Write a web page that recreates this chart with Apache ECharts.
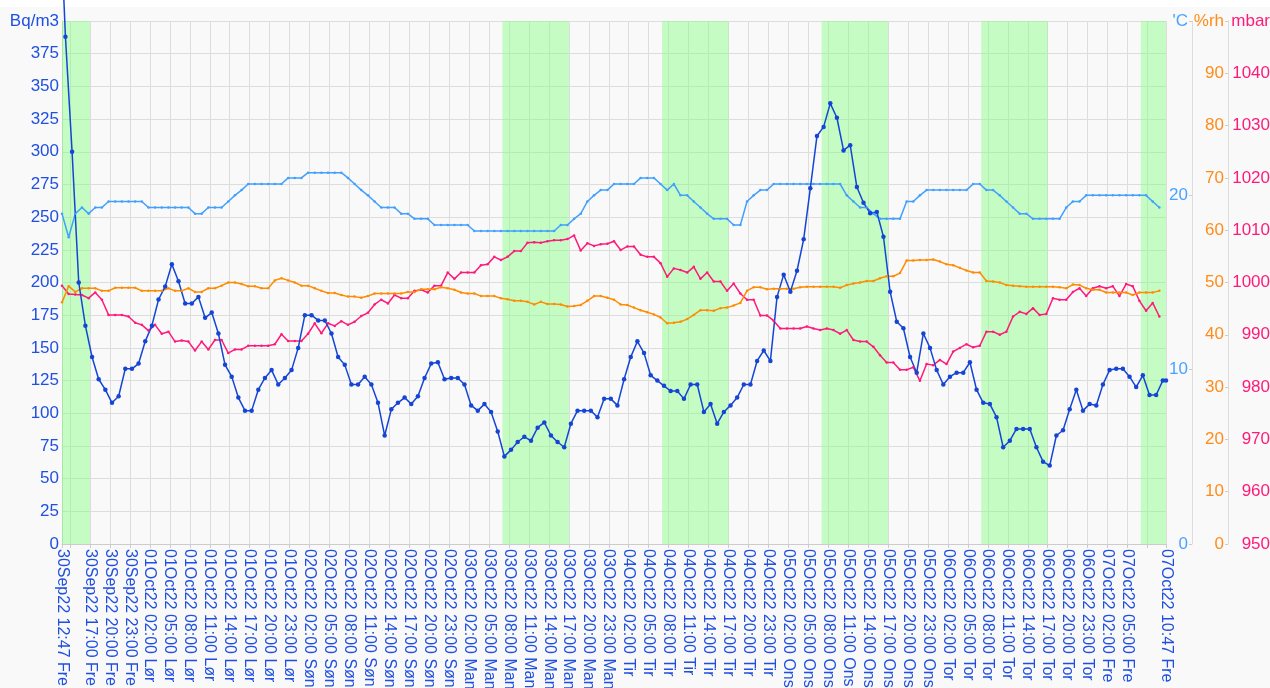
<!DOCTYPE html>
<html>
<head>
<meta charset="utf-8">
<title>Radon og inneklima</title>
<script src="https://cdn.jsdelivr.net/npm/echarts@6/dist/echarts.min.js"></script>
<style>
html, body { margin: 0; padding: 0; background: #ffffff; }
#main { width: 1270px; height: 688px; }
</style>
</head>
<body>
<div id="main"></div>
<script>
'use strict';
// all times are hours counted from 30Sep22 00:00
var startHour = 12 + 47 / 60;          // 30Sep22 12:47
var endHour = 168 + 10 + 47 / 60;      // 07Oct22 10:47
var radonFirstHour = 13 + 18 / 60;     // radon readings come at hh:18
var climateFirstHour = startHour;      // temp / rh / pressure at hh:47

var radonAtStart = 450;
var radon = [
  388, 300, 200, 167, 143, 126, 118, 108, 113, 134, 134, 138, 155, 167, 187, 197, 214, 201, 184, 184,
  189, 173, 177, 161, 137, 128, 112, 102, 102, 118, 127, 133, 122, 127, 133, 150, 175, 175, 171, 171,
  161, 143, 137, 122, 122, 128, 122, 108, 83, 103, 108, 112, 107, 113, 127, 138, 139, 126, 127, 127,
  122, 106, 102, 107, 101, 86, 67, 72, 78, 82, 79, 89, 93, 83, 78, 74, 92, 102, 102, 102,
  97, 111, 111, 106, 126, 143, 155, 146, 129, 125, 121, 117, 117, 111, 122, 122, 101, 107, 92, 101,
  106, 112, 122, 122, 140, 148, 140, 189, 206, 193, 209, 233, 272, 312, 319, 337, 326, 301, 305, 273,
  261, 253, 254, 235, 193, 170, 165, 143, 131, 161, 150, 133, 122, 128, 131, 131, 139, 118, 108, 107,
  97, 74, 79, 88, 88, 88, 74, 63, 60, 83, 87, 103, 118, 102, 107, 106, 122, 133, 134, 134,
  128, 120, 129, 114, 114, 125
];
var temperature = [
  18.95, 17.6, 18.95, 19.3, 18.95, 19.3, 19.3, 19.65, 19.65, 19.65, 19.65, 19.65, 19.65, 19.3, 19.3, 19.3, 19.3, 19.3, 19.3, 19.3,
  18.95, 18.95, 19.3, 19.3, 19.3, 19.65, 20.0, 20.3, 20.65, 20.65, 20.65, 20.65, 20.65, 20.65, 21.0, 21.0, 21.0, 21.3, 21.3, 21.3,
  21.3, 21.3, 21.3, 21.0, 20.65, 20.3, 20.0, 19.65, 19.3, 19.3, 19.3, 18.95, 18.95, 18.65, 18.65, 18.65, 18.3, 18.3, 18.3, 18.3,
  18.3, 18.3, 17.95, 17.95, 17.95, 17.95, 17.95, 17.95, 17.95, 17.95, 17.95, 17.95, 17.95, 17.95, 17.95, 18.3, 18.3, 18.65, 18.95, 19.65,
  20.0, 20.3, 20.3, 20.65, 20.65, 20.65, 20.65, 21.0, 21.0, 21.0, 20.65, 20.3, 20.65, 20.0, 20.0, 19.65, 19.3, 18.95, 18.65, 18.65,
  18.65, 18.3, 18.3, 19.65, 20.0, 20.3, 20.3, 20.65, 20.65, 20.65, 20.65, 20.65, 20.65, 20.65, 20.65, 20.65, 20.65, 20.65, 20.0, 19.65,
  19.3, 19.3, 18.95, 18.65, 18.65, 18.65, 18.65, 19.65, 19.65, 20.0, 20.3, 20.3, 20.3, 20.3, 20.3, 20.3, 20.3, 20.65, 20.65, 20.3,
  20.3, 20.0, 19.65, 19.3, 18.95, 18.95, 18.65, 18.65, 18.65, 18.65, 18.65, 19.3, 19.65, 19.65, 20.0, 20.0, 20.0, 20.0, 20.0, 20.0,
  20.0, 20.0, 20.0, 20.0, 19.65, 19.3
];
var humidity = [
  46.2, 49.3, 48.2, 48.9, 48.9, 48.9, 48.4, 48.4, 49.0, 49.0, 49.0, 49.0, 48.4, 48.4, 48.4, 48.4, 48.9, 48.4, 48.4, 48.9,
  48.2, 48.2, 48.9, 48.9, 49.4, 50.0, 50.0, 49.7, 49.3, 49.3, 48.9, 48.9, 50.4, 50.8, 50.4, 50.0, 49.4, 49.4, 48.9, 48.4,
  48.0, 48.0, 47.6, 47.3, 47.3, 47.1, 47.4, 47.9, 47.9, 47.9, 47.9, 47.9, 48.2, 48.2, 48.7, 48.7, 48.7, 49.1, 48.9, 48.6,
  48.1, 47.9, 47.9, 47.4, 47.4, 47.4, 47.0, 46.8, 46.5, 46.5, 46.3, 45.8, 46.3, 45.9, 45.9, 45.8, 45.4, 45.5, 45.7, 46.5,
  47.4, 47.4, 47.1, 46.7, 45.8, 45.7, 45.2, 44.7, 44.3, 43.9, 43.3, 42.2, 42.3, 42.5, 43.0, 43.8, 44.7, 44.7, 44.6, 45.1,
  45.2, 45.6, 46.1, 48.4, 49.1, 49.1, 48.7, 48.8, 48.8, 48.8, 48.8, 49.1, 49.2, 49.2, 49.2, 49.2, 49.2, 49.0, 49.5, 49.8,
  50.0, 50.3, 50.3, 50.8, 51.2, 51.2, 51.8, 54.2, 54.2, 54.3, 54.3, 54.4, 54.0, 53.5, 53.3, 52.8, 52.3, 51.9, 51.9, 50.3,
  50.2, 50.0, 49.5, 49.4, 49.3, 49.2, 49.2, 49.2, 49.2, 49.2, 49.1, 48.9, 49.6, 49.5, 48.9, 48.6, 48.6, 48.1, 48.1, 48.1,
  48.1, 47.6, 48.1, 48.1, 48.1, 48.4
];
var pressure = [
  999.4, 997.8, 997.7, 997.6, 997.0, 998.1, 996.7, 993.8, 993.8, 993.8, 993.5, 992.3, 991.9, 990.8, 991.9, 990.2, 990.6, 988.7, 988.9, 988.7,
  987.0, 988.7, 987.2, 989.0, 989.0, 986.5, 987.2, 987.2, 987.9, 987.9, 987.9, 987.9, 988.2, 990.1, 988.8, 988.8, 988.8, 990.2, 992.2, 990.3,
  992.2, 991.7, 992.6, 991.9, 992.5, 993.6, 994.2, 995.8, 996.7, 996.0, 997.6, 997.0, 997.0, 998.4, 998.6, 998.1, 999.4, 999.4, 1001.9, 1000.7,
  1001.9, 1001.9, 1001.9, 1003.3, 1003.5, 1004.9, 1004.3, 1004.9, 1006.0, 1006.0, 1007.6, 1007.7, 1007.6, 1007.9, 1008.1, 1008.1, 1008.3, 1009.0, 1006.1, 1007.5,
  1007.0, 1007.3, 1007.4, 1007.9, 1006.2, 1006.9, 1006.9, 1005.3, 1004.9, 1004.9, 1003.7, 1001.1, 1002.7, 1002.4, 1001.9, 1003.0, 1000.7, 1001.9, 1000.2, 1000.2,
  998.4, 999.8, 997.9, 996.7, 996.7, 993.7, 993.7, 992.7, 991.2, 991.2, 991.2, 991.2, 991.6, 991.2, 990.9, 991.2, 990.9, 990.2, 990.9, 989.0,
  988.7, 988.7, 987.7, 986.1, 984.7, 984.7, 983.3, 983.3, 983.8, 981.2, 984.4, 984.2, 985.2, 984.4, 986.8, 987.5, 988.2, 987.6, 987.9, 990.6,
  990.6, 990.0, 990.6, 993.5, 994.4, 994.0, 995.1, 993.8, 994.0, 997.0, 996.7, 996.7, 998.2, 998.9, 997.4, 998.9, 999.3, 998.9, 999.3, 997.4,
  999.7, 999.3, 996.5, 994.6, 996.1, 993.5
];

// working hours (07-17 on weekdays), shaded green
var workHours = [[startHour, 17], [79, 89], [103, 113], [127, 137], [151, 161], [175, endHour]];

var dayNames = ['Søn', 'Man', 'Tir', 'Ons', 'Tor', 'Fre', 'Lør'];
var monthNames = ['Jan', 'Feb', 'Mar', 'Apr', 'May', 'Jun', 'Jul', 'Aug', 'Sep', 'Oct', 'Nov', 'Dec'];

function pad(n) { return (n < 10 ? '0' : '') + n; }
function fmtTime(h) {
  var d = new Date(Date.UTC(2022, 8, 30) + Math.round(h * 60) * 60000);
  return pad(d.getUTCDate()) + monthNames[d.getUTCMonth()] + String(d.getUTCFullYear()).slice(2) +
    ' ' + pad(d.getUTCHours()) + ':' + pad(d.getUTCMinutes()) + ' ' + dayNames[d.getUTCDay()];
}

// every third hour (02, 05, 08 ...) plus the ends of the range
var tickHours = [startHour];
var labelHours = [startHour];
for (var h = 14; h < endHour; h += 3) {
  tickHours.push(h);
  if (h - startHour > 3 && endHour - h > 3) labelHours.push(h);
}
tickHours.push(endHour);
labelHours.push(endHour);

function pairs(first, values) {
  return values.map(function (v, i) { return [first + i, v]; });
}
var radonData = [[startHour, radonAtStart]].concat(pairs(radonFirstHour, radon), [[endHour, radon[radon.length - 1]]]);

var font = 'Liberation Sans, Arial, sans-serif';
var gridColor = '#dddddd';

var chart = echarts.init(document.getElementById('main'));
chart.setOption({
  animation: false,
  backgroundColor: '#f9f9f9',
  textStyle: { fontFamily: font },
  graphic: [{ type: 'rect', z: 0, shape: { x: 0, y: 0, width: 1270, height: 7 }, style: { fill: '#ffffff' } }],
  grid: { left: 62, right: 104, top: 21, bottom: 144, outerBoundsMode: 'none' },
  xAxis: {
    type: 'value',
    min: startHour,
    max: endHour,
    axisLine: { lineStyle: { color: '#cccccc' } },
    axisTick: { customValues: tickHours, length: 4, lineStyle: { color: '#cccccc' } },
    axisLabel: {
      customValues: labelHours, rotate: -90, margin: 5,
      color: '#1f4fe0', fontSize: 16, fontFamily: font, formatter: fmtTime
    },
    splitLine: { show: true, lineStyle: { color: gridColor } }
  },
  yAxis: [
    {
      type: 'value', min: 0, max: 400, interval: 25, position: 'left',
      axisLine: { show: true, lineStyle: { color: '#cccccc' } },
      axisTick: { show: false },
      axisLabel: {
        color: '#2050e0', fontSize: 17, margin: 3, fontFamily: font,
        formatter: function (v) { return v === 400 ? 'Bq/m3' : v; }
      },
      splitLine: { lineStyle: { color: gridColor } }
    },
    {
      type: 'value', min: 0, max: 30, interval: 10, position: 'right', offset: 26,
      axisLine: { show: true, lineStyle: { color: gridColor } },
      axisTick: { show: true, inside: true, length: 3, lineStyle: { color: '#cccccc' } },
      axisLabel: {
        inside: true, margin: 4, color: '#4aa3ff', fontSize: 17, fontFamily: font,
        formatter: function (v) { return v === 30 ? "'C" : v; }
      },
      splitLine: { show: false }
    },
    {
      type: 'value', min: 0, max: 100, interval: 10, position: 'right', offset: 62,
      axisLine: { show: true, lineStyle: { color: gridColor } },
      axisTick: { show: true, inside: true, length: 3, lineStyle: { color: '#cccccc' } },
      axisLabel: {
        inside: true, margin: 4, color: '#ff8c1a', fontSize: 17, fontFamily: font,
        formatter: function (v) { return v === 100 ? '%rh' : v; }
      },
      splitLine: { show: false }
    },
    {
      type: 'value', min: 950, max: 1050, interval: 10, position: 'right', offset: 107,
      axisLine: { show: false },
      axisTick: { show: false },
      axisLabel: {
        inside: true, margin: 3, color: '#ff1a7a', fontSize: 17, fontFamily: font,
        formatter: function (v) { return v === 1050 ? 'mbar' : v; }
      },
      splitLine: { show: false }
    }
  ],
  series: [
    {
      name: 'mbar', type: 'line', yAxisIndex: 3,
      data: pairs(climateFirstHour, pressure),
      symbol: 'circle', symbolSize: 2.5,
      lineStyle: { width: 1.5, color: '#ff1a7a' }, itemStyle: { color: '#ff1a7a' },
      markArea: {
        silent: true,
        itemStyle: { color: 'rgba(130, 255, 130, 0.45)' },
        data: workHours.map(function (w) { return [{ xAxis: w[0] }, { xAxis: w[1] }]; })
      }
    },
    {
      name: '%rh', type: 'line', yAxisIndex: 2,
      data: pairs(climateFirstHour, humidity),
      symbol: 'circle', symbolSize: 2.5,
      lineStyle: { width: 1.5, color: '#ff8c00' }, itemStyle: { color: '#ff8c00' }
    },
    {
      name: "'C", type: 'line', yAxisIndex: 1,
      data: pairs(climateFirstHour, temperature),
      symbol: 'circle', symbolSize: 2.5,
      lineStyle: { width: 1.5, color: '#42a0ff' }, itemStyle: { color: '#42a0ff' }
    },
    {
      name: 'Bq/m3', type: 'line', yAxisIndex: 0,
      data: radonData, clip: false,
      symbol: 'circle', symbolSize: 4.5,
      lineStyle: { width: 1.5, color: '#1545d5' }, itemStyle: { color: '#1545d5' }
    }
  ]
});
</script>
</body>
</html>
